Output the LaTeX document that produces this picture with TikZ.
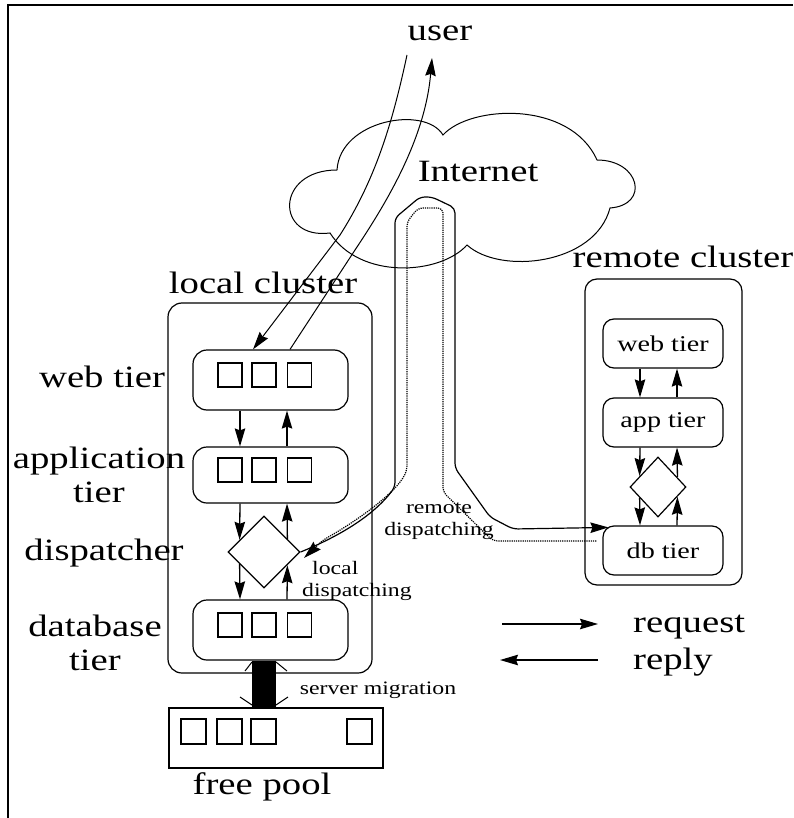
\documentclass[tikz,border=0pt]{standalone}
\usepackage{fontspec}
\setmainfont[FakeStretch=1.25]{Liberation Serif}
\usetikzlibrary{arrows.meta,shapes.geometric,calc}
\begin{document}
\begin{tikzpicture}[x=1pt,y=-1pt,
  arr/.style={-{Stealth[length=18pt,width=10.5pt,inset=2pt]}, line width=1.3pt},
  big/.style={font=\fontsize{31}{34}\selectfont, inner sep=0pt},
  small/.style={font=\fontsize{19}{22.5}\selectfont, inner sep=0pt},
  tierbox/.style={draw, line width=1.2pt, rounded corners=14pt, inner sep=0pt, minimum width=155pt, minimum height=60pt},
  rtier/.style={draw, line width=1.2pt, rounded corners=11pt, inner sep=0pt, minimum width=120pt, minimum height=49pt, font=\fontsize{22.5}{26}\selectfont},
  clusterbox/.style={draw, line width=1.2pt, rounded corners=14pt, inner sep=0pt},
  cell/.style={draw, line width=1.3pt, minimum size=24pt, inner sep=0pt},
  dispbox/.style={draw, diamond, line width=1.2pt, inner sep=0pt, aspect=1},
  thin/.style={line width=1pt}
]
\useasboundingbox (0,0) rectangle (793,818);
% frame
\draw[line width=2pt] (8,818) -- (8,5) -- (793,5);

% cloud
\draw[thin] (337,170) .. controls (340,120) and (425,105) .. (443,135)
  .. controls (470,105) and (570,100) .. (597,160)
  .. controls (640,160) and (650,205) .. (610,208)
  .. controls (595,265) and (500,275) .. (467,245)
  .. controls (440,275) and (360,280) .. (330,233)
  .. controls (275,240) and (275,170) .. (337,170) -- cycle;
\node[big] (inet) at (478,172) {Internet};
\node[big] (user) at (440,33) {user};

% local cluster
\node[clusterbox, minimum width=204pt, minimum height=370pt] (lc) at (270,488) {};
\node[big] (lclab) at (263,283) {local cluster};
\node[tierbox] (webT) at (270.5,380) {};
\node[tierbox, minimum height=56pt] (appT) at (270.5,475) {};
\node[tierbox] (dbT) at (270.5,630) {};
\node[dispbox, minimum width=72pt, minimum height=72pt] (dis) at (264,552) {};
\foreach \r/\y in {w/375,a/470,d/625}{
  \node[cell] (\r1) at (230,\y) {};
  \node[cell] (\r2) at (264,\y) {};
  \node[cell] (\r3) at (299.5,\y) {};
}
\node[big] (l1) at (102,377) {web tier};
\node[big, align=center] (l2) at (99,475) {application\\tier};
\node[big] (l3) at (104,553) {dispatcher};
\node[big, align=center] (l4) at (95,643) {database\\tier};

% local arrows
\draw[arr] ([xshift=-30.5pt]webT.south) -- ([xshift=-30.5pt]appT.north);
\draw[arr] ([xshift=16.5pt]appT.north) -- ([xshift=16.5pt]webT.south);
\draw[arr] ([xshift=-30.5pt]appT.south) -- ($(dis.west)!0.333!(dis.north)$);
\draw[arr] ($(dis.east)!0.361!(dis.north)$) -- ([xshift=16.5pt]appT.south);
\draw[arr] ($(dis.west)!0.333!(dis.south)$) -- ([xshift=-30.5pt]dbT.north);
\draw[arr] ([xshift=16.5pt]dbT.north) -- ($(dis.east)!0.361!(dis.south)$);

% free pool
\node[draw, line width=1.3pt, minimum width=214pt, minimum height=60pt, inner sep=0pt] (pool) at (276,738) {};
\node[cell, minimum size=25pt] (p1) at (193.5,731.5) {};
\node[cell, minimum size=25pt] (p2) at (229.5,731.5) {};
\node[cell, minimum size=25pt] (p3) at (263.5,731.5) {};
\node[cell, minimum size=25pt] (p4) at (359.5,731.5) {};
\node[big] (fp) at (262,787) {free pool};

% server migration
\draw[line width=24pt] ([xshift=-6.5pt]dbT.south) -- ([xshift=-6.5pt]dbT.south |- pool.north);
\draw[thin] (245,671) -- (252,662);
\draw[thin] (287,671) -- (276,662);
\draw[thin] (240,697) -- (252,705);
\draw[thin] (288,697) -- (276,705);
\node[small] (sm) at (378,690) {server migration};

% user arrows
\coordinate (u1) at (407,55);
\coordinate (u2) at (432,58);
\draw[arr, thin] (u1) .. controls (392,125) and (375,180) .. (340,235) -- ([xshift=-17.5pt]webT.north);
\draw[arr, thin] ([xshift=19.5pt]webT.north) -- (355,250) .. controls (385,205) and (425,140) .. (u2);

% remote cluster
\node[clusterbox, rounded corners=12pt, minimum width=157pt, minimum height=306pt] (rc) at (663.5,432) {};
\node[big] (rclab) at (683,257) {remote cluster};
\node[rtier] (rweb) at (663,343.5) {web tier};
\node[rtier] (rapp) at (663,422.5) {app tier};
\node[rtier] (rdb) at (663,550.5) {db tier};
\node[dispbox, minimum width=56pt, minimum height=60pt] (rdis) at (658,487) {};
\draw[arr] ([xshift=-23pt]rweb.south) -- ([xshift=-23pt]rapp.north);
\draw[arr] ([xshift=14pt]rapp.north) -- ([xshift=14pt]rweb.south);
\draw[arr] ([xshift=-23pt]rapp.south) -- ($(rdis.west)!0.357!(rdis.north)$);
\draw[arr] ($(rdis.east)!0.32!(rdis.north)$) -- ([xshift=14pt]rapp.south);
\draw[arr] ($(rdis.west)!0.357!(rdis.south)$) -- ([xshift=-23pt]rdb.north);
\draw[arr] ([xshift=14pt]rdb.north) -- ($(rdis.east)!0.32!(rdis.south)$);

% remote dispatching (request, solid)
\draw[arr, line width=1.2pt, rounded corners=5pt] (dis.east) .. controls (330,540) and (370,520) .. (395,487)
  -- (395,218) -- (420,197) -- (432,197) -- (455,208) -- (455,468)
  -- (490,517) -- (513,529) -- ($(rdb.north west)+(6,2)$);
% reply, dotted
\draw[arr, line width=1.2pt, densely dotted, rounded corners=5pt] ($(rdb.west)+(-6,-9.5)$) -- (493,541) -- (443,492)
  -- (443,208) -- (418,208) -- (407,222) -- (407,470)
  .. controls (395,495) and (350,525) .. (323,540) -- (304,558);
\node[small, align=center] (rdlab) at (439,521) {remote\\dispatching};
\node[small, align=left, anchor=west] (ldlab) at (302,581) {\hspace*{10pt}local\\dispatching};

% legend
\coordinate (q1) at (502,624);
\coordinate (q2) at (598,624);
\coordinate (r1) at (598,660);
\coordinate (r2) at (500,660);
\draw[arr] (q1) -- (q2);
\draw[arr] (r1) -- (r2);
\node[big, anchor=west] (reqlab) at (633,627) {request};
\node[big, anchor=west] (replab) at (633,662) {reply};
\end{tikzpicture}
\end{document}
